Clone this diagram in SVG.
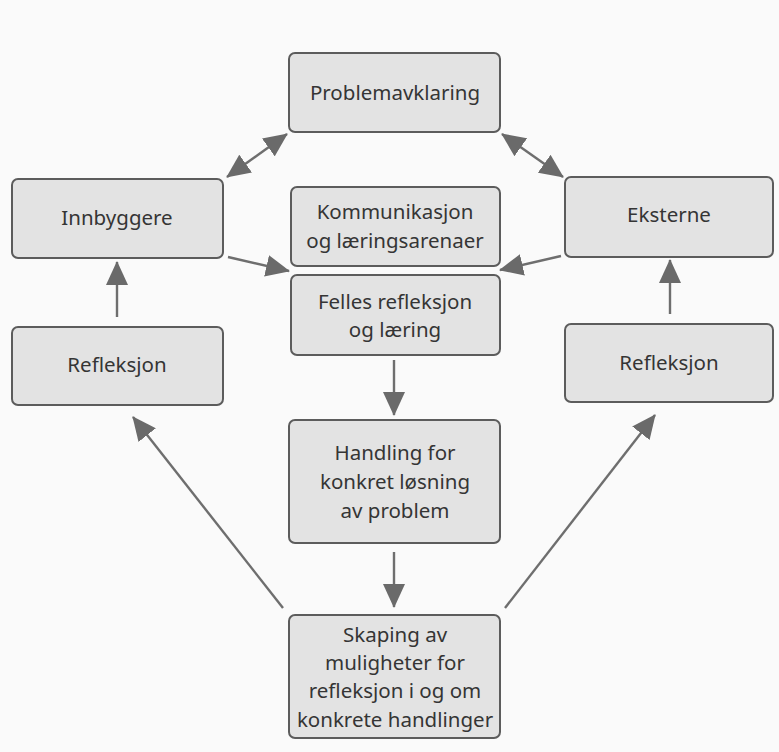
<svg xmlns="http://www.w3.org/2000/svg" width="779" height="752" viewBox="0 0 779 752">
<style>
.box{fill:#e3e3e3;stroke:#5c5c5c;stroke-width:2}
.t{font-family:"Noto Sans","Open Sans","DejaVu Sans",sans-serif;font-size:20.5px;fill:#353535;text-anchor:middle}
.c{stroke:#6e6e6e;stroke-width:2.4;fill:none}
</style>
<defs>
<marker id="big" viewBox="0 0 24 22" refX="23" refY="11" markerWidth="24" markerHeight="22" orient="auto-start-reverse" markerUnits="userSpaceOnUse">
<path d="M0,0 L24,11 L0,22 Z" fill="#6a6a6a"/>
</marker>
</defs>
<rect width="779" height="752" fill="#fafafa"/>
<g id="connectors">
<line class="c" x1="227" y1="177" x2="287" y2="134" marker-start="url(#big)" marker-end="url(#big)"/>
<line class="c" x1="502" y1="134" x2="563" y2="177" marker-start="url(#big)" marker-end="url(#big)"/>
<line class="c" x1="228" y1="257" x2="289" y2="271" marker-end="url(#big)"/>
<line class="c" x1="561" y1="256" x2="500" y2="270" marker-end="url(#big)"/>
<line class="c" x1="117" y1="317" x2="117" y2="262" marker-end="url(#big)"/>
<line class="c" x1="670" y1="314" x2="670" y2="260" marker-end="url(#big)"/>
<line class="c" x1="394" y1="360" x2="394" y2="415" marker-end="url(#big)"/>
<line class="c" x1="394" y1="552" x2="394" y2="607" marker-end="url(#big)"/>
<line class="c" x1="283" y1="608" x2="133" y2="417" marker-end="url(#big)"/>
<line class="c" x1="505" y1="608" x2="655" y2="415" marker-end="url(#big)"/>
</g>
<g id="problemavklaring"><rect class="box" x="289" y="53" width="211" height="79" rx="6"/><text class="t" x="395" y="100">Problemavklaring</text></g>
<g id="innbyggere"><rect class="box" x="12" y="179" width="211" height="79" rx="6"/><text class="t" x="117" y="225">Innbyggere</text></g>
<g id="eksterne"><rect class="box" x="565" y="177" width="208" height="80" rx="6"/><text class="t" x="669" y="222">Eksterne</text></g>
<g id="kommunikasjon"><rect class="box" x="291" y="187" width="209" height="79" rx="6"/><text class="t" x="395" y="219">Kommunikasjon</text><text class="t" x="395" y="248">og læringsarenaer</text></g>
<g id="felles"><rect class="box" x="291" y="275" width="209" height="80" rx="6"/><text class="t" x="395" y="309">Felles refleksjon</text><text class="t" x="395" y="337">og læring</text></g>
<g id="refleksjon-venstre"><rect class="box" x="12" y="327" width="211" height="78" rx="6"/><text class="t" x="117" y="372">Refleksjon</text></g>
<g id="refleksjon-hoyre"><rect class="box" x="565" y="324" width="208" height="78" rx="6"/><text class="t" x="669" y="370">Refleksjon</text></g>
<g id="handling"><rect class="box" x="289" y="420" width="211" height="123" rx="6"/><text class="t" x="395" y="460">Handling for</text><text class="t" x="395" y="489">konkret løsning</text><text class="t" x="395" y="518">av problem</text></g>
<g id="skaping"><rect class="box" x="289" y="615" width="211" height="123" rx="6"/><text class="t" x="395" y="642">Skaping av</text><text class="t" x="395" y="670">muligheter for</text><text class="t" x="395" y="698">refleksjon i og om</text><text class="t" x="395" y="727">konkrete handlinger</text></g>
</svg>
